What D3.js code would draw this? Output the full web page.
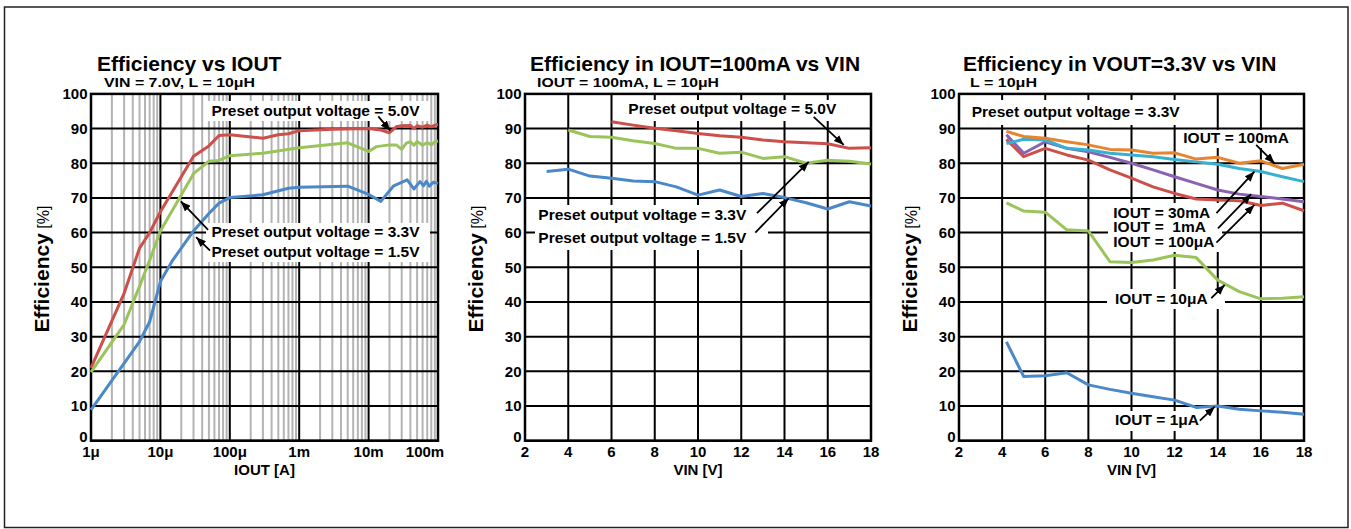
<!DOCTYPE html>
<html>
<head>
<meta charset="utf-8">
<script src="https://cdn.jsdelivr.net/npm/d3@7"></script>
<style>
body { margin: 0; background: #fff; }
svg text { font-family: "Liberation Sans", Arial, sans-serif; font-weight: bold; fill: #000; }
</style>
</head>
<body>
<svg id="chart" width="1351" height="529"></svg>
<script>
// ---- data ----
// panel 1 : efficiency vs IOUT (VIN = 7.0V)
var iout50 = [1e-6, 3e-6, 5e-6, 7e-6, 1e-5, 3e-5, 5e-5, 7e-5, 1e-4, 3e-4, 5e-4, 7e-4, 1e-3, 3e-3, 1e-2, 1.5e-2, 2e-2, 2.5e-2, 3e-2, 4e-2, 4.5e-2, 5e-2, 6e-2, 7e-2, 8e-2, 9e-2, 1e-1];
var eff50 = [21, 42.5, 55.5, 60, 66, 82, 85, 88, 88.2, 87.2, 88.2, 88.5, 89.4, 89.8, 90, 89.6, 88.8, 90.5, 90.8, 90.9, 90, 90.8, 90.4, 91, 90.5, 91, 91.2];
var iout33 = [1e-6, 3e-6, 5e-6, 7e-6, 1e-5, 3e-5, 5e-5, 7e-5, 1e-4, 3e-4, 1e-3, 5e-3, 1e-2, 1.3e-2, 2e-2, 2.5e-2, 3e-2, 3.5e-2, 4e-2, 4.5e-2, 5e-2, 6e-2, 7e-2, 8e-2, 9e-2, 1e-1];
var eff33 = [19.8, 33.5, 44.5, 52, 60.5, 77, 80.6, 80.8, 82.2, 82.9, 84.5, 85.9, 83.4, 84.8, 85.3, 85.3, 84, 85.8, 86.2, 85.2, 86.3, 85.2, 86, 85.3, 86.2, 86.4];
var iout15 = [1e-6, 5e-6, 7e-6, 1e-5, 1.5e-5, 3e-5, 5e-5, 7e-5, 1e-4, 3e-4, 7e-4, 1e-3, 5e-3, 1e-2, 1.5e-2, 2.3e-2, 3.6e-2, 4.5e-2, 5.5e-2, 6.2e-2, 6.8e-2, 7.5e-2, 8.5e-2, 1e-1];
var eff15 = [8.9, 28.6, 34.3, 45.9, 52, 60.5, 65.5, 68.5, 70.1, 70.9, 72.8, 73.1, 73.4, 71, 69, 73.5, 75.2, 72.6, 74.7, 73.5, 74.8, 73.4, 74.5, 74.2];
var ioutTicks = [1e-6, 1e-5, 1e-4, 1e-3, 1e-2, 1e-1];
var ioutTickLabels = ["1\u03bc", "10\u03bc", "100\u03bc", "1m", "10m", "100m"];

// panel 2 : efficiency vs VIN at IOUT = 100mA
var vin50 = [6, 7, 8, 9, 10, 11, 12, 13, 14, 15, 16, 17, 18];
var effVin50 = [92.0, 91.0, 90.1, 89.4, 88.6, 87.9, 87.5, 86.7, 86.2, 85.9, 85.6, 84.3, 84.5];
var vin33 = [4, 5, 6, 7, 8, 9, 10, 11, 12, 13, 14, 15, 16, 17, 18];
var effVin33 = [89.6, 87.7, 87.5, 86.5, 85.7, 84.3, 84.3, 82.9, 83.2, 81.4, 81.9, 80.0, 80.9, 80.6, 79.8];
var vin15 = [3, 4, 5, 6, 7, 8, 9, 10, 11, 12, 13, 14, 15, 16, 17, 18];
var effVin15 = [77.6, 78.3, 76.3, 75.7, 74.9, 74.7, 73.2, 70.8, 72.3, 70.4, 71.3, 70.1, 68.6, 66.8, 68.9, 67.7];

// panel 3 : efficiency vs VIN at VOUT = 3.3V
var vinLoad = [4.2, 5, 6, 7, 8, 9, 10, 11, 12, 13, 14, 15, 16, 17, 18];
var eff100mA = [89.2, 87.7, 87.2, 86.2, 85.3, 84.0, 83.8, 82.9, 83.0, 81.2, 81.7, 80.0, 80.7, 78.5, 79.7];
var eff30mA = [85.7, 86.9, 86.7, 84.3, 83.8, 82.9, 82.4, 81.9, 81.1, 80.4, 79.7, 78.5, 77.6, 76.1, 74.7];
var eff1mA = [88.2, 82.9, 86.2, 84.3, 83.3, 81.7, 80.0, 78.1, 76.1, 74.2, 72.3, 71.1, 70.4, 69.7, 68.9];
var eff100uA = [86.9, 81.9, 84.3, 82.4, 80.9, 78.1, 75.7, 73.2, 71.3, 69.7, 69.4, 69.2, 67.8, 68.5, 66.3];
var eff10uA = [68.6, 66.2, 65.9, 60.8, 60.5, 51.6, 51.4, 52.1, 53.5, 52.8, 46.3, 43.0, 40.9, 41.1, 41.5];
var eff1uA = [28.5, 18.5, 18.7, 19.6, 16.1, 14.8, 13.7, 12.7, 11.7, 9.6, 10.0, 9.1, 8.6, 8.2, 7.6];

var vinTicks = [2, 4, 6, 8, 10, 12, 14, 16, 18];
var effTicks = [0, 10, 20, 30, 40, 50, 60, 70, 80, 90, 100];

// ---- styles ----
var RED = "#cc4f4a", GREEN = "#9ac459", BLUE = "#4a88c9",
    ORANGE = "#e8832e", CYAN = "#38b0d2", PURPLE = "#8a62b2";

var svg = d3.select("#chart");

svg.append("defs").append("marker")
    .attr("id", "arr")
    .attr("viewBox", "0 0 10 8")
    .attr("refX", 10).attr("refY", 4)
    .attr("markerWidth", 10).attr("markerHeight", 8)
    .attr("markerUnits", "userSpaceOnUse")
    .attr("orient", "auto")
  .append("path").attr("d", "M0,0L10,4L0,8Z").attr("fill", "#000");

// outer frame
svg.append("rect")
    .attr("x", 4.5).attr("y", 7).attr("width", 1343.5).attr("height", 520.5)
    .attr("fill", "none").attr("stroke", "#222").attr("stroke-width", 1.5);

var plotTop = 93.9, plotBottom = 440.7;

function addText(g, t, x, y, size, anchor, len) {
    var el = g.append("text").attr("x", x).attr("y", y)
        .attr("font-size", size).attr("text-anchor", anchor || "start")
        .style("white-space", "pre").text(t);
    if (len) el.attr("textLength", len).attr("lengthAdjust", "spacingAndGlyphs");
    return el;
}

function drawPanel(p) {
    var g = svg.append("g");
    var x = p.x, y = d3.scaleLinear().domain([0, 100]).range([plotBottom, plotTop]);
    var x0 = x.range()[0], x1 = x.range()[1];

    // minor (log) grid
    if (p.log) {
        g.selectAll(".minor").data(x.ticks().filter(function (d) {
            var m = Math.round(d / Math.pow(10, Math.floor(Math.log10(d) + 1e-9)));
            return m !== 1;
        })).enter().append("line")
            .attr("x1", function (d) { return x(d); }).attr("x2", function (d) { return x(d); })
            .attr("y1", plotTop).attr("y2", plotBottom)
            .attr("stroke", "#b4b4b4").attr("stroke-width", 2);
    }
    // major vertical grid
    g.selectAll(".vmaj").data(p.xTicks).enter().append("line")
        .attr("x1", function (d) { return x(d); }).attr("x2", function (d) { return x(d); })
        .attr("y1", plotTop).attr("y2", plotBottom)
        .attr("stroke", "#000").attr("stroke-width", 2);
    // horizontal grid
    g.selectAll(".hmaj").data(effTicks).enter().append("line")
        .attr("x1", x0).attr("x2", x1)
        .attr("y1", function (d) { return y(d); }).attr("y2", function (d) { return y(d); })
        .attr("stroke", "#000").attr("stroke-width", 2);
    g.append("rect").attr("x", x0).attr("y", plotTop).attr("width", x1 - x0).attr("height", plotBottom - plotTop)
        .attr("fill", "none").attr("stroke", "#000").attr("stroke-width", 2.5);

    // white label boxes
    p.boxes.forEach(function (b) {
        g.append("rect").attr("x", b[0]).attr("y", b[1]).attr("width", b[2] - b[0]).attr("height", b[3] - b[1])
            .attr("fill", "#fff");
    });

    // series
    var line = d3.line().x(function (d) { return x(d[0]); }).y(function (d) { return y(d[1]); });
    p.series.forEach(function (s) {
        g.append("path").datum(d3.zip(s.x, s.y))
            .attr("d", line).attr("fill", "none")
            .attr("stroke", s.color).attr("stroke-width", 3).attr("stroke-linejoin", "round");
    });

    // tick labels (the "0" sits a little above its line, as in the original)
    g.selectAll(".yl").data(effTicks).enter().append("text")
        .attr("x", x0 - 3.5).attr("y", function (d) { return y(d) - (d === 0 ? 4.5 : 0); }).attr("dy", "0.36em")
        .attr("text-anchor", "end").attr("font-size", 15).text(function (d) { return d; });
    g.selectAll(".xl").data(p.xTicks).enter().append("text")
        .attr("x", function (d, i) { return x(d) + (p.xShift ? p.xShift[i] : 0); })
        .attr("y", plotBottom + 16).attr("text-anchor", "middle").attr("font-size", 15)
        .text(function (d, i) { return p.xLabels[i]; });

    addText(g, p.xTitle, (x0 + x1) / 2, 475, 15, "middle");
    var yl = g.append("text").attr("text-anchor", "middle")
        .attr("transform", "translate(" + (x0 - 42) + ",269) rotate(-90)");
    yl.append("tspan").attr("font-size", 21).text("Efficiency");
    yl.append("tspan").attr("font-size", 16).attr("font-weight", "normal").text(" [%]");

    addText(g, p.title, p.titleX, 71, 21, "start");
    addText(g, p.sub, p.titleX + 7, 86.5, 13, "start", p.subLen);

    // annotations
    p.notes.forEach(function (n) { addText(g, n[0], n[1], n[2], 15.5, "start"); });
    p.arrows.forEach(function (a) {
        g.append("line")
            .attr("x1", x(a[0])).attr("y1", y(a[1])).attr("x2", x(a[2])).attr("y2", y(a[3]))
            .attr("stroke", "#000").attr("stroke-width", 1.8).attr("marker-end", "url(#arr)");
    });
}

drawPanel({
    log: true,
    x: d3.scaleLog().domain([1e-6, 1e-1]).range([91, 438]),
    xTicks: ioutTicks, xLabels: ioutTickLabels, xShift: [0, 0, 0, 0, 0, -13],
    xTitle: "IOUT [A]",
    title: "Efficiency vs IOUT", titleX: 97, sub: "VIN = 7.0V, L = 10\u03bcH", subLen: 151,
    series: [
        { x: iout50, y: eff50, color: RED },
        { x: iout33, y: eff33, color: GREEN },
        { x: iout15, y: eff15, color: BLUE }
    ],
    boxes: [[207, 101, 430, 121], [206, 223, 430, 262]],
    notes: [
        ["Preset output voltage = 5.0V", 211.5, 116],
        ["Preset output voltage = 3.3V", 211.5, 237.3],
        ["Preset output voltage = 1.5V", 211.5, 256.7]
    ],
    arrows: [
        [1.38e-2, 93.5, 2.05e-2, 89.4],
        [4.87e-5, 60.8, 1.97e-5, 69.0],
        [5.2e-5, 54.8, 3.27e-5, 58.7]
    ]
});

drawPanel({
    x: d3.scaleLinear().domain([2, 18]).range([525, 871]),
    xTicks: vinTicks, xLabels: vinTicks,
    xTitle: "VIN [V]",
    title: "Efficiency in IOUT=100mA vs VIN", titleX: 530, sub: "IOUT = 100mA, L = 10\u03bcH", subLen: 182,
    series: [
        { x: vin50, y: effVin50, color: RED },
        { x: vin33, y: effVin33, color: GREEN },
        { x: vin15, y: effVin15, color: BLUE }
    ],
    boxes: [[625, 100, 845, 121], [535, 205, 768, 250]],
    notes: [
        ["Preset output voltage = 5.0V", 628.3, 114],
        ["Preset output voltage = 3.3V", 538.3, 220],
        ["Preset output voltage = 1.5V", 538.3, 242.7]
    ],
    arrows: [
        [15.35, 93.4, 16.74, 85.3],
        [12.73, 65.6, 15.12, 80.4],
        [12.65, 60.0, 14.19, 69.9]
    ]
});

drawPanel({
    x: d3.scaleLinear().domain([2, 18]).range([959, 1304]),
    xTicks: vinTicks, xLabels: vinTicks,
    xTitle: "VIN [V]",
    title: "Efficiency in VOUT=3.3V vs VIN", titleX: 963, sub: "L = 10\u03bcH", subLen: 67,
    series: [
        { x: vinLoad, y: eff1uA, color: BLUE },
        { x: vinLoad, y: eff10uA, color: GREEN },
        { x: vinLoad, y: eff100uA, color: RED },
        { x: vinLoad, y: eff1mA, color: PURPLE },
        { x: vinLoad, y: eff30mA, color: CYAN },
        { x: vinLoad, y: eff100mA, color: ORANGE }
    ],
    boxes: [[962, 100, 1192, 125], [1180, 130, 1292, 148], [1108, 203, 1222, 252],
            [1107, 289, 1225, 309], [1110, 411, 1208, 431]],
    notes: [
        ["Preset output voltage = 3.3V", 971.7, 116.7],
        ["IOUT = 100mA", 1183.3, 143.3],
        ["IOUT = 30mA", 1113.3, 217.7],
        ["IOUT =  1mA", 1113.3, 232],
        ["IOUT = 100\u03bcA", 1113.3, 247],
        ["IOUT = 10\u03bcA", 1115, 304],
        ["IOUT = 1\u03bcA", 1115, 425]
    ],
    arrows: [
        [15.78, 85.3, 16.63, 80.0],
        [13.94, 65.6, 15.70, 77.6],
        [14.01, 61.2, 15.55, 71.1],
        [13.94, 57.1, 15.70, 68.0],
        [13.70, 41.1, 14.32, 44.9],
        [13.17, 5.8, 13.86, 9.8]
    ]
});
</script>
</body>
</html>
